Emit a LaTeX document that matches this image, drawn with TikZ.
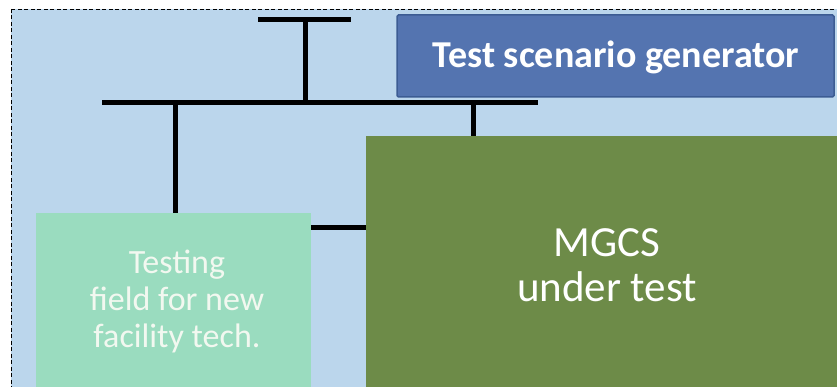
\documentclass[tikz,border=0pt]{standalone}
\usepackage{fontspec}
\setmainfont{Carlito}
\definecolor{skyfill}{HTML}{BBD6EC}
\definecolor{genfill}{HTML}{5474B0}
\definecolor{genedge}{HTML}{3C5C93}
\definecolor{mgcsfill}{HTML}{6D8B48}
\definecolor{fieldfill}{HTML}{9ADCBF}
\definecolor{softwhite}{HTML}{F2F8F0}
\tikzset{
  bus/.style={line width=5pt, black},
  genbox/.style={draw=genedge, line width=1.5pt, fill=genfill, rounded corners=1.5pt},
  gentext/.style={text=white, font=\bfseries\fontsize{38}{44}\selectfont, inner sep=0pt},
  mgcstext/.style={text=white, font=\fontsize{43}{45}\selectfont, align=center, inner sep=0pt},
  fieldtext/.style={text=softwhite, font=\fontsize{34}{37}\selectfont, align=center, inner sep=0pt}
}
\begin{document}
\begin{tikzpicture}[x=1pt,y=-1pt]
\useasboundingbox (0,0) rectangle (837,387);
\clip (0,0) rectangle (837,387);
% dashed system boundary
\draw[dash pattern=on 4pt off 2.5pt, line width=0.8pt, fill=skyfill] (11,9) rectangle (860,410);
% blocks
\path[genbox] (397,15) rectangle (834,97);
\node[gentext] (gen) at (616,57) {Test scenario generator};
\path[fill=mgcsfill] (366,136) rectangle (860,410);
\coordinate (mgcs) at (366,136);
\coordinate (mgcsleft) at (366,228);
\node[mgcstext] (mgcslabel) at (607,265) {MGCS\\under test};
\path[fill=fieldfill] (36,213) rectangle (311,410);
\coordinate (fieldtop) at (175,213);
\coordinate (fieldright) at (311,228);
\node[fieldtext] (fieldlabel) at (177,301) {Testing\\field for new\\facility tech.};
% bus structure
\coordinate (capL) at (258,19.5);
\coordinate (capR) at (351,19.5);
\coordinate (capmid) at (305,19.5);
\coordinate (busL) at (102,102.5);
\coordinate (busR) at (538,102.5);
\coordinate (busmid) at (305,102.5);
\coordinate (busfield) at (175,102.5);
\coordinate (busmgcs) at (473,102.5);
\draw[bus] (capL) -- (capR);
\draw[bus] (capmid) -- (busmid);
\draw[bus] (busL) -- (busR);
\draw[bus] (busfield) -- (fieldtop);
\draw[bus] (busmgcs) -- (mgcs -| busmgcs);
\draw[bus] (fieldright) -- (mgcsleft);
\end{tikzpicture}
\end{document}
